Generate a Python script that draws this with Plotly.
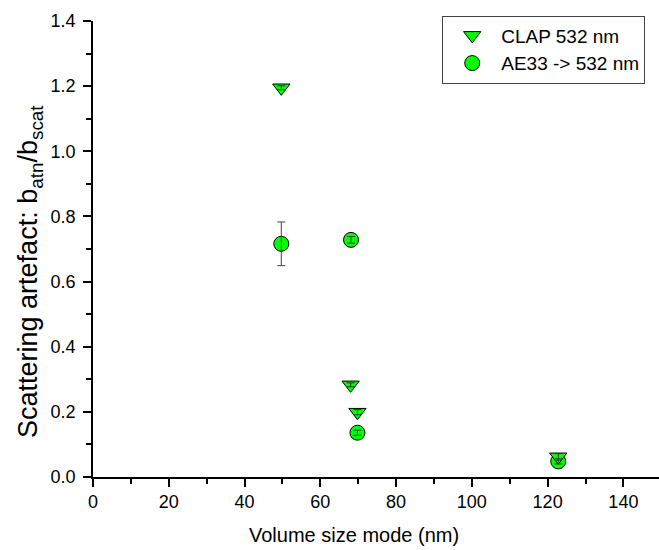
import plotly.graph_objects as go

# Data
clap_x = [49.7, 68.0, 69.8, 122.8]
clap_y = [1.195, 0.283, 0.199, 0.062]
clap_err = [0.006, 0.006, 0.008, 0.010]

ae33_x = [49.7, 68.1, 69.8, 122.8]
ae33_y = [0.716, 0.728, 0.136, 0.048]
ae33_err = [0.067, 0.010, 0.008, 0.008]

x_title = "Volume size mode (nm)"
y_title = "Scattering artefact: b<sub>atn</sub>/b<sub>scat</sub>"

font_family = "Arial, Liberation Sans, sans-serif"
green = "#00FF00"

fig = go.Figure()
# AE33 drawn first (beneath), CLAP on top; legend order via legendrank
fig.add_trace(go.Scatter(
    x=ae33_x, y=ae33_y, mode="markers", name="AE33 -> 532 nm", legendrank=2,
    marker=dict(symbol="circle", size=15, color=green,
                line=dict(color="black", width=1)),
))
fig.add_trace(go.Scatter(
    x=clap_x, y=clap_y, mode="markers", name="CLAP 532 nm", legendrank=1,
    marker=dict(symbol="triangle-down", size=15, color=green,
                line=dict(color="black", width=1)),
))
# error bars drawn over the markers
fig.add_trace(go.Scatter(
    x=ae33_x, y=ae33_y, mode="markers", showlegend=False, hoverinfo="skip",
    marker=dict(size=1, opacity=0),
    error_y=dict(type="data", array=ae33_err, color="#444444", thickness=1, width=4),
))
fig.add_trace(go.Scatter(
    x=clap_x, y=clap_y, mode="markers", showlegend=False, hoverinfo="skip",
    marker=dict(size=1, opacity=0),
    error_y=dict(type="data", array=clap_err, color="#333333", thickness=1, width=4),
))

fig.update_layout(
    width=659, height=550,
    margin=dict(l=93, r=0, t=21, b=73),
    paper_bgcolor="white", plot_bgcolor="white",
    font=dict(family=font_family, color="black", size=18),
    showlegend=True,
    legend=dict(
        x=0.617, y=1.012, xanchor="left", yanchor="top",
        bordercolor="#444444", borderwidth=1, bgcolor="white",
        font=dict(size=19, family=font_family),
        itemwidth=48,
        tracegroupgap=0,
    ),
    xaxis=dict(
        range=[0, 149.4], showgrid=False, zeroline=False, automargin=False,
        showline=True, linecolor="black", linewidth=1.5,
        ticks="outside", ticklen=8, tickwidth=1.5, tickcolor="black",
        dtick=20, tick0=0,
        minor=dict(ticks="outside", ticklen=5, dtick=10, tickcolor="black", showgrid=False),
        tickfont=dict(size=18),
    ),
    yaxis=dict(
        range=[0, 1.4], showgrid=False, zeroline=False, automargin=False,
        showline=True, linecolor="black", linewidth=1.5,
        ticks="outside", ticklen=8, tickwidth=1.5, tickcolor="black",
        dtick=0.2, tick0=0, tickformat=".1f", ticklabelstandoff=4,
        minor=dict(ticks="outside", ticklen=5, dtick=0.1, tickcolor="black", showgrid=False),
        tickfont=dict(size=18),
    ),
    annotations=[
        dict(text=x_title, xref="paper", yref="paper", x=0.461, y=-0.127,
             xanchor="center", yanchor="middle", showarrow=False,
             font=dict(size=20, family=font_family, color="black")),
        dict(text=y_title, xref="paper", yref="paper", x=-0.111, y=0.45,
             xanchor="center", yanchor="middle", showarrow=False, textangle=-90,
             font=dict(size=27, family=font_family, color="black")),
    ],
)

fig.write_html("out.html")
